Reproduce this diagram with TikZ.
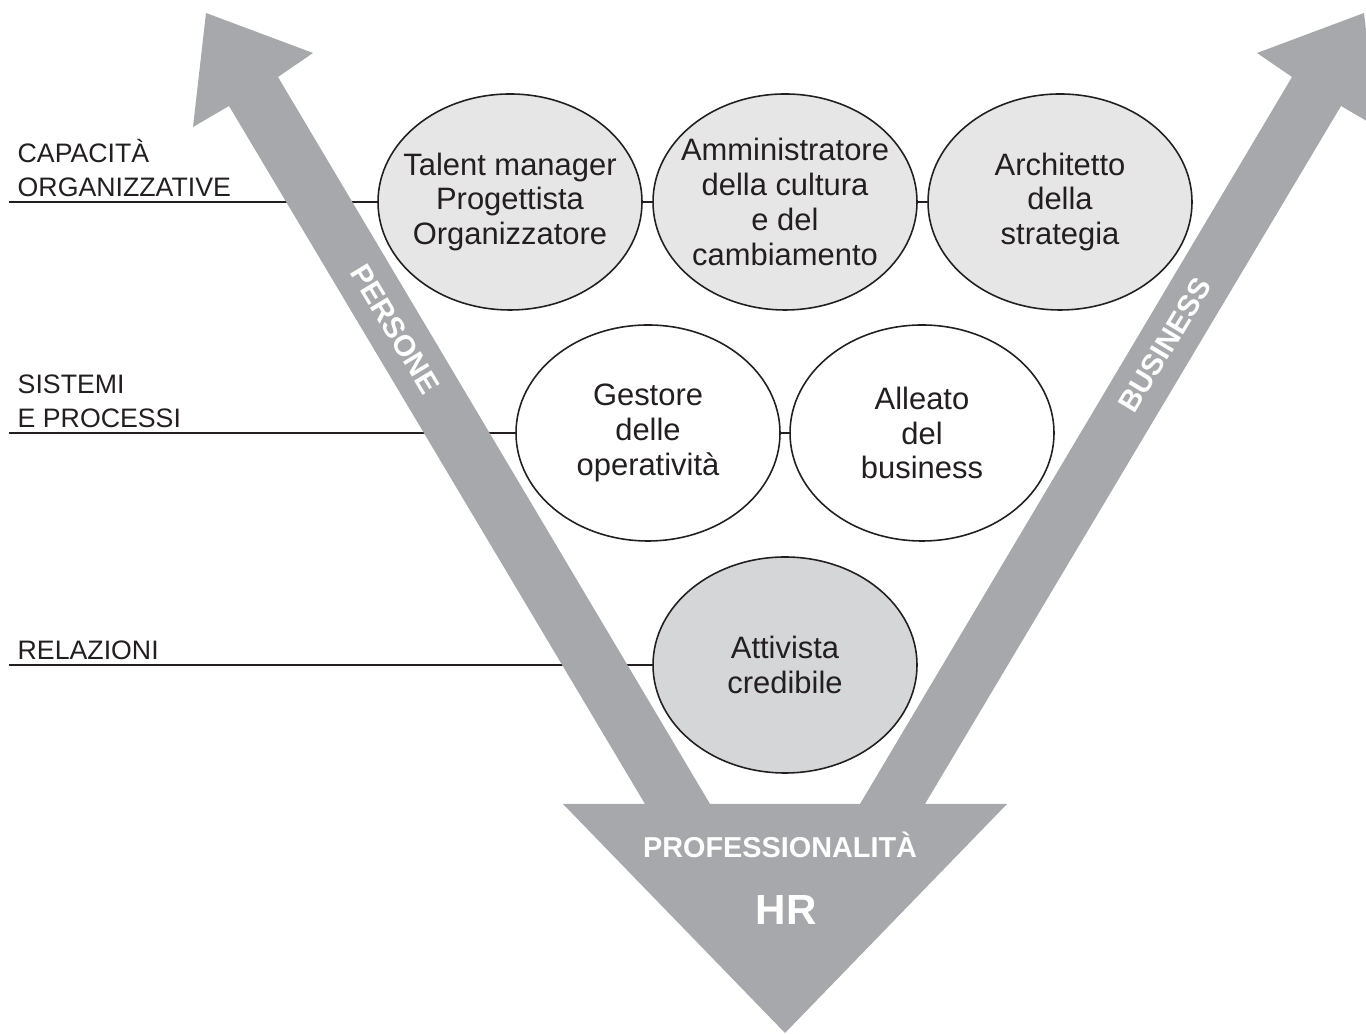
\documentclass[tikz,border=0pt]{standalone}
\usepackage{fontspec}
\setmainfont{Liberation Sans}
\usetikzlibrary{shapes.geometric,backgrounds}

\definecolor{arrowgray}{HTML}{A7A8AB}
\definecolor{topfill}{HTML}{E6E6E7}
\definecolor{lowfill}{HTML}{D5D6D8}
\definecolor{inkgray}{HTML}{231F20}

\begin{document}
\begin{tikzpicture}[
	cell/.style={
		ellipse,
		draw=inkgray,
		line width=0.45pt,
		minimum width=2.64cm,
		minimum height=2.16cm,
		inner sep=0pt,
	},
	celltxt/.style={
		align=center,
		inner sep=0pt,
		text=inkgray,
		font=\fontsize{8.8}{9.9}\selectfont,
	},
	levellbl/.style={% Labels of the levels on the left
		anchor=south west,
		align=left,
		inner sep=0pt,
		text=inkgray,
		font=\fontsize{7.6}{9.6}\selectfont,
	},
	arrowtxt/.style={
		text=white,
		font=\bfseries\fontsize{8.4}{10}\selectfont,
	},
	levelline/.style={
		draw=inkgray,
		line width=0.5pt,
	},
]
	\useasboundingbox (0,0) rectangle (13.66,10.34);
	\clip (0,0) rectangle (13.66,10.34);

	\coordinate (capA) at (0.09,8.32);
	\coordinate (sisA) at (0.09,6.01);
	\coordinate (relA) at (0.09,3.69);

	\node [cell, fill=topfill, label={[celltxt]center:Talent manager\\Progettista\\Organizzatore}] (tm) at (5.10,8.32) {};
	\node [cell, fill=topfill, label={[celltxt]center:Amministratore\\della cultura\\e del\\cambiamento}] (amm) at (7.85,8.32) {};
	\node [cell, fill=topfill, label={[celltxt]center:Architetto\\della\\strategia}] (arch) at (10.60,8.32) {};
	\node [cell, fill=white, label={[celltxt]center:Gestore\\delle\\operatività}] (gest) at (6.48,6.01) {};
	\node [cell, fill=white, label={[celltxt]center:Alleato\\del\\business}] (all) at (9.22,6.01) {};
	\node [cell, fill=lowfill, label={[celltxt]center:Attivista\\credibile}] (att) at (7.85,3.69) {};

	\node [levellbl] (capL) at (0.17,8.37) {CAPACITÀ\\ORGANIZZATIVE};
	\node [levellbl] (sisL) at (0.17,6.06) {SISTEMI\\E PROCESSI};
	\node [levellbl] (relL) at (0.17,3.74) {RELAZIONI};

	\begin{scope}[on background layer]
		\draw [levelline] (capA) -- (tm);
		\draw [levelline] (tm) -- (amm);
		\draw [levelline] (amm) -- (arch);
		\draw [levelline] (sisA) -- (gest);
		\draw [levelline] (gest) -- (all);
		\draw [levelline] (relA) -- (att);

		% persone, business and the HR base
		\fill [arrowgray] (6.45,2.30) -- (2.29,9.28) -- (1.93,9.07) -- (2.06,10.21)
			-- (3.13,9.81) -- (2.78,9.57) -- (7.10,2.30) -- cycle;
		\fill [arrowgray] (9.25,2.30) -- (13.41,9.28) -- (13.77,9.07) -- (13.64,10.21)
			-- (12.57,9.81) -- (12.92,9.57) -- (8.60,2.30) -- cycle;
		\fill [arrowgray] (5.63,2.30) -- (10.07,2.30) -- (7.85,0.01) -- cycle;
	\end{scope}

	\node [arrowtxt, rotate=-59] (pers) at (3.95,7.05) {PERSONE};
	\node [arrowtxt, rotate=59] (bus) at (11.65,6.89) {BUSINESS};
	\node [arrowtxt, anchor=base, font=\bfseries\fontsize{8.2}{10}\selectfont] (prof) at (7.80,1.76) {PROFESSIONALITÀ};
	\node [arrowtxt, anchor=base, font=\bfseries\fontsize{12}{14}\selectfont] (hr) at (7.86,1.09) {HR};
\end{tikzpicture}
\end{document}
